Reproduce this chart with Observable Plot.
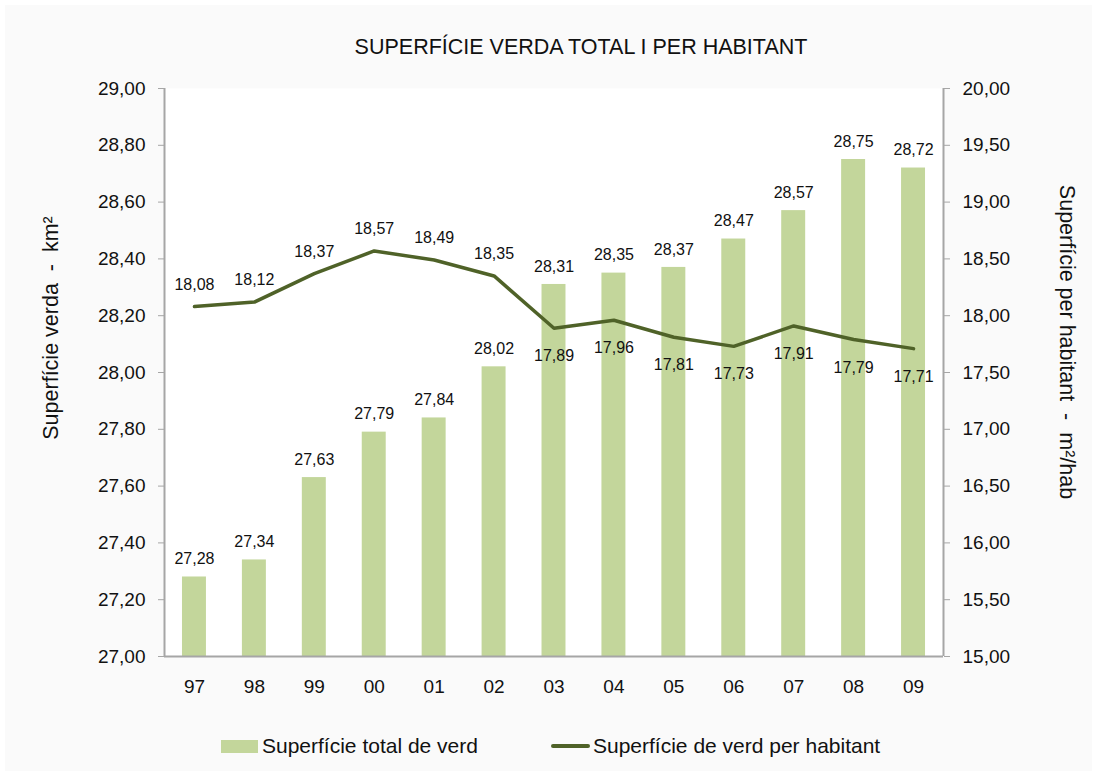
<!DOCTYPE html>
<html>
<head>
<meta charset="utf-8">
<script src="https://cdn.jsdelivr.net/npm/d3@7"></script>
<script src="https://cdn.jsdelivr.net/npm/@observablehq/plot@0.6"></script>
<style>
  body { margin: 0; background: #ffffff; font-family: "Liberation Sans", Arial, sans-serif; }
  #wrap { position: relative; width: 1097px; height: 776px; background: #ffffff; overflow: hidden; }
  #bg { position: absolute; left: 5px; top: 5px; width: 1087px; height: 766px; background: #fafafa; }
  #title { position: absolute; left: 0; width: 1162px; top: 35px; text-align: center; font-size: 21.5px; color: #111; white-space: nowrap; }
  .ytitle { position: absolute; font-size: 21.5px; color: #111; white-space: pre; transform: translate(-50%, -50%) rotate(-90deg); }
  .ytitle.right { transform: translate(-50%, -50%) rotate(90deg); }
  #chart { position: absolute; left: 0; top: 60px; }
  #legend { position: absolute; top: 733px; left: 0; width: 1097px; height: 26px; font-size: 21px; color: #111; }
  .item { position: absolute; top: 0; display: flex; align-items: center; height: 26px; white-space: nowrap; }
  .sw-bar { width: 37px; height: 13px; background: #c3d69b; margin-right: 4px; }
  .sw-line { width: 39px; height: 3.5px; background: #4f6228; margin-right: 3px; border-radius: 2px; }
</style>
</head>
<body>
<div id="wrap">
  <div id="bg"></div>
  <div id="title">SUPERFÍCIE VERDA TOTAL I PER HABITANT</div>
  <div class="ytitle" style="left:51px; top:328px;">Superfície verda  -  km²</div>
  <div class="ytitle right" style="left:1066px; top:342px;">Superfície per habitant  -  m²/hab</div>
  <div id="chart"></div>
  <div id="legend">
    <div class="item" style="left:221px;"><div class="sw-bar"></div>Superfície total de verd</div>
    <div class="item" style="left:551px;"><div class="sw-line"></div>Superfície de verd per habitant</div>
  </div>
</div>
<script>
const years = ["97","98","99","00","01","02","03","04","05","06","07","08","09"];
const totalArea = [27.28,27.34,27.63,27.79,27.84,28.02,28.31,28.35,28.37,28.47,28.57,28.75,28.72];
const perHabitant = [18.08,18.12,18.37,18.57,18.49,18.35,17.89,17.96,17.81,17.73,17.91,17.79,17.71];
const leftTicks = [27.0,27.2,27.4,27.6,27.8,28.0,28.2,28.4,28.6,28.8,29.0];
const rightTicks = [15.0,15.5,16.0,16.5,17.0,17.5,18.0,18.5,19.0,19.5,20.0];
const labelsAboveLine = ["97","98","99","00","01","02"];

const fmt = v => d3.format(".2f")(v).replace(".", ",");
// map right-axis values onto the left-axis domain
const rightToLeft = d3.scaleLinear([15, 20], [27, 29]);

const data = years.map((yr, i) => ({i, yr, total: totalArea[i], per: perHabitant[i], perL: rightToLeft(perHabitant[i])}));

const gray = "#a6a6a6";
const ink = "#111111";

const chart = Plot.plot({
  width: 1097,
  height: 660,
  marginLeft: 164,
  marginRight: 154,
  marginTop: 28,
  marginBottom: 64,
  style: { fontFamily: "'Liberation Sans', Arial, sans-serif", fontSize: "19px", background: "transparent", overflow: "visible" },
  x: { type: "linear", domain: [-0.5, 12.5], axis: null },
  y: { domain: [27, 29], axis: null },
  marks: [
    Plot.frame({ fill: "white", stroke: null }),
    Plot.rectY(data, { x1: d => d.i - 0.2, x2: d => d.i + 0.2, y1: 27, y2: "total", fill: "#c3d69b" }),
    Plot.ruleY([27], { stroke: gray, strokeWidth: 2 }),
    Plot.ruleX([-0.5, 12.5], { stroke: gray, strokeWidth: 2 }),
    Plot.axisY({ anchor: "left", ticks: leftTicks, tickFormat: fmt, tickSize: 6, tickPadding: 13, stroke: gray, fill: ink, label: null, fontSize: 19 }),
    Plot.axisY({ anchor: "right", ticks: rightTicks.map(rightToLeft), tickFormat: v => fmt(rightToLeft.invert(v)), tickSize: 6, tickPadding: 13, stroke: gray, fill: ink, label: null, fontSize: 19 }),
    Plot.axisX({ ticks: d3.range(years.length), tickFormat: i => years[i], tickSize: 0, tickPadding: 23, fill: ink, label: null, fontSize: 19 }),
    Plot.line(data, { x: "i", y: "perL", stroke: "#4f6228", strokeWidth: 3.5 }),
    Plot.text(data, { x: "i", y: "total", text: d => fmt(d.total), dy: -18, fontSize: 16, fill: ink }),
    Plot.text(data.filter(d => labelsAboveLine.includes(d.yr)), { x: "i", y: "perL", text: d => fmt(d.per), dy: -22, fontSize: 16, fill: ink }),
    Plot.text(data.filter(d => !labelsAboveLine.includes(d.yr)), { x: "i", y: "perL", text: d => fmt(d.per), dy: 28, fontSize: 16, fill: ink })
  ]
});
document.getElementById("chart").appendChild(chart);
</script>
</body>
</html>
